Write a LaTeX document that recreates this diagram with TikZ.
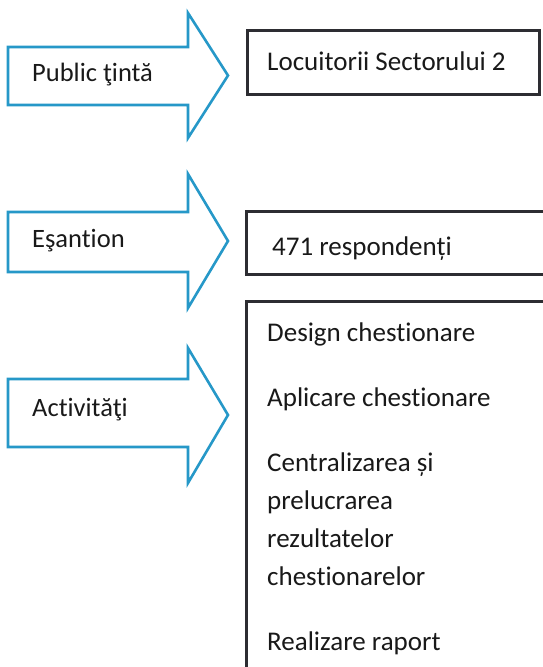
\documentclass[tikz,border=0pt]{standalone}
\usepackage{fontspec}
\setmainfont{Carlito}[Ligatures=NoCommon]
\usepackage{xcolor}
\usetikzlibrary{positioning}
\definecolor{arrowblue}{RGB}{38,152,200}
\definecolor{boxgray}{RGB}{45,45,50}

\begin{document}
\begin{tikzpicture}[
  x=1pt, y=-1pt,
  font=\fontsize{26.5}{32}\selectfont,
  bigarrow/.style={
    draw=arrowblue,
    line width=2.6pt,
    line join=miter,
    fill=white
  },
  lab/.style={
    anchor=west,
    inner sep=0pt,
    text=black!90
  },
  box/.style={
    draw=boxgray,
    line width=3pt,
    anchor=north west,
    inner sep=0pt,
    fill=white
  },
  boxtext/.style={
    anchor=west,
    inner sep=0pt,
    text=black!90,
    font=\fontsize{27}{38}\selectfont
  }
]
\useasboundingbox (0,0) rectangle (543,667);

% Left-side arrows
\draw[bigarrow] (8,47) -- (188,47) -- (188,13) -- (228,75.5)
  -- (188,138) -- (188,105) -- (8,105) -- cycle;
\draw[bigarrow] (8,212) -- (188,212) -- (188,174) -- (228,241)
  -- (188,308) -- (188,272) -- (8,272) -- cycle;
\draw[bigarrow] (8,379) -- (188,379) -- (188,348) -- (228,415)
  -- (188,483) -- (188,447) -- (8,447) -- cycle;

\node[lab] (public)  at (32,75)  {Public ţintă};
\node[lab] (esantion) at (32,241) {Eşantion};
\node[lab] (activ)   at (32,410) {Activităţi};

% Right-side boxes
\node[box, minimum width=292, minimum height=64] (locuitori) at (245.5,28.5) {};
\node[box, minimum width=330, minimum height=63] (resp) at (244.5,209.5) {};
\node[box, minimum width=330, minimum height=420] (lista) at (244.5,299.5) {};

\node[boxtext] (loctext) at (267,61) {Locuitorii Sectorului 2};
\node[boxtext] (resptext) at (272,249) {471 respondenți};
\node[boxtext, anchor=north west, align=left] (listtext) at (267,323)
  {Design chestionare\\[27pt]
   Aplicare chestionare\\[27pt]
   Centralizarea și\\
   prelucrarea\\
   rezultatelor\\
   chestionarelor\\[27pt]
   Realizare raport};

\end{tikzpicture}
\end{document}
